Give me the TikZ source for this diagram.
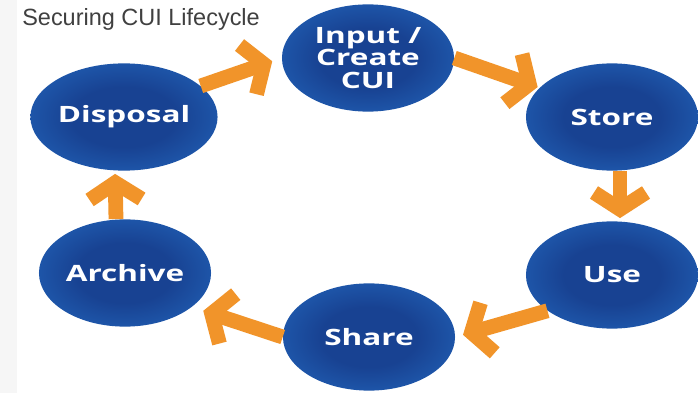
\documentclass[tikz,border=0pt]{standalone}
\usepackage{fontspec}
\newfontfamily\stagefont{Open Sans}[FakeStretch=1.4]
\newfontfamily\titlefont{Liberation Sans}
\usetikzlibrary{shapes.geometric,arrows.meta}

\definecolor{cuidark}{RGB}{24,66,146}
\definecolor{cuimid}{RGB}{34,100,186}
\definecolor{cuirim}{RGB}{52,130,214}
\definecolor{cuiedge}{RGB}{150,195,238}
\definecolor{cuiorange}{RGB}{241,148,42}
\definecolor{cuititle}{RGB}{64,64,64}

\pgfdeclareradialshading{cuiblob}{\pgfpoint{0bp}{0bp}}{%
  color(0bp)=(cuidark); color(14bp)=(cuidark); color(34bp)=(cuimid);
  color(45bp)=(cuirim); color(50bp)=(cuiedge)}

\begin{document}
\begin{tikzpicture}[x=0.025cm,y=-0.025cm,
  stage/.style ={ellipse,shading=cuiblob,minimum width=4.3cm,minimum height=2.68cm,
                 inner sep=0pt,text=white,align=center,
                 font=\stagefont\bfseries\fontsize{16}{16}\selectfont},
  flow/.style  ={cuiorange,line width=0.37cm,
                 -{Straight Barb[length=0.42cm,width=1.3cm]}},
  heading/.style={text=cuititle,inner sep=0pt,font=\titlefont\fontsize{16.7}{20}\selectfont}
]
  % ----- page and margins -----
  \fill[white] (0,0) rectangle (698,393);
  \fill[gray!7] (0,0) rectangle (17,393);
  \useasboundingbox (0,0) rectangle (698,393);

  \node[heading,anchor=base west] (title) at (22,26) {Securing CUI Lifecycle};

  % ----- lifecycle stages -----
  \node[stage] (input)    at (368,58)  {Input /\\Create\\CUI};
  \node[stage] (store)    at (612,117) {Store};
  \node[stage] (use)      at (612,275) {Use};
  \node[stage] (share)    at (369,337) {Share};
  \node[stage] (archive)  at (125,273) {Archive};
  \node[stage] (disposal) at (124,117) {Disposal};

  % ----- arrows round the cycle -----
  \draw[flow,shorten >=0.05cm] (input.east) -- (store.158);
  \draw[flow,shorten >=0.075cm] ([xshift=0.2cm]store.south) -- ([xshift=0.2cm]use.north);
  \draw[flow,shorten >=0.2cm] (use.209) -- (share.east);
  \draw[flow,shorten >=0.3cm] (share.west) -- (archive.-27);
  \draw[flow,shorten >=0.075cm] ([xshift=-0.225cm]archive.north) -- ([xshift=-0.225cm]disposal.south);
  \draw[flow,shorten >=0.25cm] (disposal.22) -- (input.west);
\end{tikzpicture}
\end{document}
